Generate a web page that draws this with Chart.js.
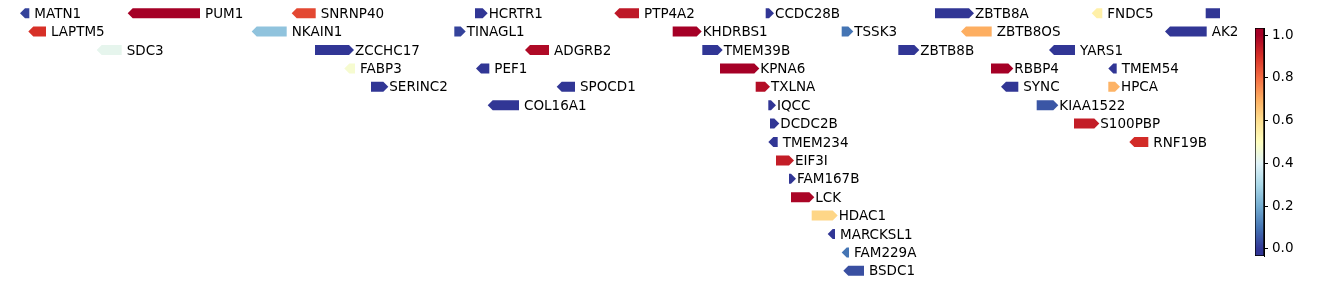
<!DOCTYPE html>
<html>
<head>
<meta charset="utf-8">
<script src="https://cdn.jsdelivr.net/npm/chart.js@4.4.1/dist/chart.umd.min.js"></script>
<style>
  html, body { margin: 0; padding: 0; background: #fff; overflow: hidden; }
  #wrap { position: relative; width: 1338px; height: 285px; }
  #genes { position: absolute; left: 0; top: 0; }
  #cbar { position: absolute; left: 1255px; top: 0; }
</style>
</head>
<body>
<div id="wrap">
  <canvas id="genes" width="1338" height="285"></canvas>
  <canvas id="cbar" width="83" height="285"></canvas>
</div>
<script>
// gene data (positions along the track)
const geneNames = [
  "MATN1", "PUM1", "SNRNP40", "HCRTR1", "PTP4A2", "CCDC28B", "ZBTB8A", "FNDC5", "",
  "LAPTM5", "NKAIN1", "TINAGL1", "KHDRBS1", "TSSK3", "ZBTB8OS", "AK2",
  "SDC3", "ZCCHC17", "ADGRB2", "TMEM39B", "ZBTB8B", "YARS1",
  "FABP3", "PEF1", "KPNA6", "RBBP4", "TMEM54",
  "SERINC2", "SPOCD1", "TXLNA", "SYNC", "HPCA",
  "COL16A1", "IQCC", "KIAA1522",
  "DCDC2B", "S100PBP",
  "TMEM234", "RNF19B",
  "EIF3I", "FAM167B", "LCK", "HDAC1", "MARCKSL1", "FAM229A", "BSDC1"
];
const geneStart = [
  0, 107.7, 271.7, 455, 594.3, 745.7, 915, 1071.7, 1185.7,
  8.3, 231.7, 434.3, 652.7, 821.7, 941, 1145,
  76.7, 295, 505, 682.3, 878.3, 1029,
  324.3, 456, 700, 971, 1088.3,
  351, 536.7, 735.7, 981, 1088.3,
  467.7, 748.3, 1016.7,
  750, 1054,
  748.3, 1109.3,
  756, 769, 771, 791.7, 807.7, 821.7, 823.3
];
const geneEnd = [
  9.3, 180, 295.7, 467.7, 619, 754, 954, 1082.3, 1215,
  26, 266.7, 445.7, 681.7, 833.3, 971.7, 1186.7,
  101.7, 334, 529, 702.7, 899.3, 1055,
  335, 469.3, 739.3, 993.3, 1096.7,
  368.3, 555, 750, 998.3, 1100,
  499, 756, 1038.3,
  759.3, 1079.3,
  757.7, 1128.3,
  774, 776, 794.3, 817.7, 815, 829, 844
];
const geneStrand = [
  -1, -1, -1, 1, -1, 1, 1, -1, 1,
  -1, -1, 1, 1, 1, -1, -1,
  -1, 1, -1, 1, 1, -1,
  -1, -1, 1, 1, -1,
  1, -1, 1, -1, 1,
  -1, 1, 1,
  1, 1,
  -1, -1,
  1, 1, 1, 1, -1, -1, -1
];
const geneValue = [
  0.02, 1.0, 0.86, 0.0, 0.95, 0.0, 0.0, 0.55, 0.0,
  0.9, 0.25, 0.02, 1.0, 0.1, 0.7, 0.0,
  0.42, 0.0, 0.98, 0.0, 0.0, 0.0,
  0.47, 0.0, 1.0, 1.0, 0.0,
  0.0, 0.0, 0.97, 0.0, 0.69,
  0.0, 0.0, 0.05,
  0.0, 0.94,
  0.0, 0.91,
  0.94, 0.0, 0.99, 0.62, 0.0, 0.1, 0.04
];
const geneTrack = [
  0, 0, 0, 0, 0, 0, 0, 0, 0,
  1, 1, 1, 1, 1, 1, 1,
  2, 2, 2, 2, 2, 2,
  3, 3, 3, 3, 3,
  4, 4, 4, 4, 4,
  5, 5, 5,
  6, 6,
  7, 7,
  8, 9, 10, 11, 12, 13, 14
];

// colour bar
const cbMin = -0.033;
const cbMax = 1.033;
const cbTicks = [0.0, 0.2, 0.4, 0.6, 0.8, 1.0];
const cmapStops = ["#313695", "#4575b4", "#74add1", "#abd9e9", "#e0f3f8", "#ffffbf",
                   "#fee090", "#fdae61", "#f46d43", "#d73027", "#a50026"];

const FONT = "13.5px 'DejaVu Sans', sans-serif";

function hexRgb(h) {
  return [parseInt(h.slice(1, 3), 16), parseInt(h.slice(3, 5), 16), parseInt(h.slice(5, 7), 16)];
}

function cmap(v) {
  let t = Math.max(0, Math.min(1, v));
  let p = t * (cmapStops.length - 1);
  let i = Math.min(Math.floor(p), cmapStops.length - 2);
  let f = p - i;
  let a = hexRgb(cmapStops[i]), b = hexRgb(cmapStops[i + 1]);
  let c = a.map((x, k) => Math.round(x + (b[k] - x) * f));
  return "rgb(" + c.join(",") + ")";
}

// arrows are drawn on top of the (invisible) floating bars
const arrowPlugin = {
  id: "arrows",
  afterDatasetsDraw(chart) {
    let ctx = chart.ctx;
    let area = chart.chartArea;
    let meta = chart.getDatasetMeta(0);
    meta.data.forEach((el, i) => {
      let x0 = Math.min(el.x, el.base);
      let x1 = Math.max(el.x, el.base);
      let yc = el.y;
      let h = el.height;
      let head = Math.min(5, x1 - x0);
      ctx.save();
      ctx.beginPath();
      ctx.rect(area.left, area.top, area.right - area.left, area.bottom - area.top);
      ctx.clip();
      ctx.fillStyle = cmap(geneValue[i]);
      ctx.beginPath();
      if (geneStrand[i] > 0) {
        ctx.moveTo(x0, yc - h / 2);
        ctx.lineTo(x1 - head, yc - h / 2);
        ctx.lineTo(x1, yc);
        ctx.lineTo(x1 - head, yc + h / 2);
        ctx.lineTo(x0, yc + h / 2);
      } else {
        ctx.moveTo(x1, yc - h / 2);
        ctx.lineTo(x0 + head, yc - h / 2);
        ctx.lineTo(x0, yc);
        ctx.lineTo(x0 + head, yc + h / 2);
        ctx.lineTo(x1, yc + h / 2);
      }
      ctx.closePath();
      ctx.fill();
      ctx.restore();

      if (geneNames[i]) {
        ctx.save();
        ctx.font = FONT;
        ctx.fillStyle = "#000";
        ctx.textBaseline = "middle";
        ctx.textAlign = "left";
        ctx.fillText(geneNames[i], x1 + (geneStrand[i] > 0 ? 1 : 5), yc + 1);
        ctx.restore();
      }
    });
  },
};

function cargarGenes() {
  let canvas = document.getElementById("genes");
  let puntos = geneNames.map((g, i) => ({ x: [geneStart[i], geneEnd[i]], y: geneTrack[i] }));

  new Chart(canvas, {
    type: "bar",
    data: {
      datasets: [
        {
          data: puntos,
          backgroundColor: "rgba(0,0,0,0)",
          borderWidth: 0,
          barThickness: 10,
        },
      ],
    },
    options: {
      indexAxis: "y",
      responsive: false,
      animation: false,
      layout: { padding: { left: 20, right: 118, top: 4, bottom: 5 } },
      plugins: { legend: { display: false }, tooltip: { enabled: false } },
      scales: {
        x: { type: "linear", min: 0, max: 1200, display: false },
        y: { type: "linear", min: -0.5, max: 14.5, reverse: true, offset: false, display: false },
      },
    },
    plugins: [arrowPlugin],
  });
}

function cargarBarraColor() {
  let canvas = document.getElementById("cbar");

  new Chart(canvas, {
    type: "bar",
    data: {
      labels: [""],
      datasets: [
        {
          data: [[cbMin, cbMax]],
          backgroundColor: (c) => {
            let area = c.chart.chartArea;
            if (!area) return "#fff";
            let ys = c.chart.scales.y;
            let g = c.chart.ctx.createLinearGradient(0, ys.getPixelForValue(0), 0, ys.getPixelForValue(1));
            cmapStops.forEach((col, k) => g.addColorStop(k / (cmapStops.length - 1), col));
            return g;
          },
          borderColor: "#000",
          borderWidth: 1,
          borderSkipped: false,
          barPercentage: 1,
          categoryPercentage: 1,
        },
      ],
    },
    options: {
      responsive: false,
      animation: false,
      layout: { padding: { left: 0, right: 0, top: 28, bottom: 29 } },
      plugins: { legend: { display: false }, tooltip: { enabled: false } },
      scales: {
        x: { display: false },
        y: {
          position: "right",
          min: cbMin,
          max: cbMax,
          afterBuildTicks: (s) => {
            s.ticks = cbTicks.map((v) => ({ value: v }));
          },
          afterFit: (s) => {
            s.width = 74;
          },
          grid: { drawOnChartArea: false, drawTicks: true, tickLength: 4, color: "#000" },
          border: { display: true, color: "#000" },
          ticks: {
            color: "#000",
            padding: 4,
            font: { family: "'DejaVu Sans', sans-serif", size: 13.5 },
            callback: (v) => Number(v).toFixed(1),
          },
        },
      },
    },
  });
}

cargarGenes();
cargarBarraColor();
</script>
</body>
</html>
